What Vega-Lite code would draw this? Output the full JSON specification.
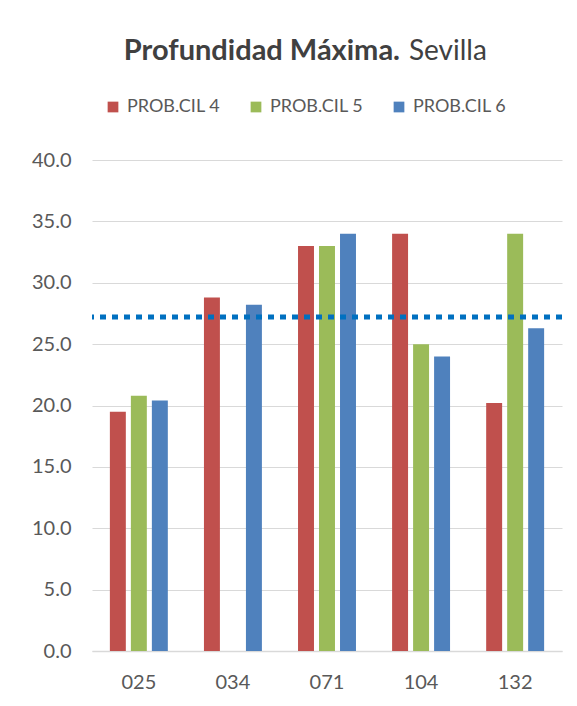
{
  "$schema": "https://vega.github.io/schema/vega-lite/v6.json",
  "autosize": "none",
  "width": 470,
  "height": 491,
  "padding": {"left": 92, "top": 160, "right": 15, "bottom": 55},
  "background": "white",
  "title": {
    "text": "Profundidad Máxima.",
    "subtitle": "Sevilla",
    "anchor": "middle",
    "frame": "group",
    "orient": "top",
    "offset": 32,
    "font": "Lato",
    "fontSize": 29,
    "fontWeight": "bold",
    "color": "#404040",
    "subtitleFont": "Lato",
    "subtitleFontSize": 28,
    "subtitleFontWeight": "normal",
    "subtitleColor": "#404040",
    "subtitlePadding": -28,
    "encode": {
      "title": {"update": {"align": {"value": "right"}, "dx": {"value": 73}}},
      "subtitle": {"update": {"align": {"value": "left"}, "dx": {"value": 82}}}
    }
  },
  "config": {
    "view": {"stroke": null},
    "axis": {
      "labelFont": "Lato",
      "labelFontSize": 20,
      "labelColor": "#595959",
      "ticks": false,
      "title": null,
      "gridColor": "#d9d9d9",
      "gridWidth": 1
    },
    "legend": {
      "labelFont": "Lato",
      "labelFontSize": 18,
      "labelColor": "#595959"
    }
  },
  "layer": [
    {
      "data": {
        "values": [
          {"pozo": "025", "serie": "PROB.CIL 4", "valor": 19.5},
          {"pozo": "025", "serie": "PROB.CIL 5", "valor": 20.8},
          {"pozo": "025", "serie": "PROB.CIL 6", "valor": 20.4},
          {"pozo": "034", "serie": "PROB.CIL 4", "valor": 28.8},
          {"pozo": "034", "serie": "PROB.CIL 6", "valor": 28.2},
          {"pozo": "071", "serie": "PROB.CIL 4", "valor": 33.0},
          {"pozo": "071", "serie": "PROB.CIL 5", "valor": 33.0},
          {"pozo": "071", "serie": "PROB.CIL 6", "valor": 34.0},
          {"pozo": "104", "serie": "PROB.CIL 4", "valor": 34.0},
          {"pozo": "104", "serie": "PROB.CIL 5", "valor": 25.0},
          {"pozo": "104", "serie": "PROB.CIL 6", "valor": 24.0},
          {"pozo": "132", "serie": "PROB.CIL 4", "valor": 20.2},
          {"pozo": "132", "serie": "PROB.CIL 5", "valor": 34.0},
          {"pozo": "132", "serie": "PROB.CIL 6", "valor": 26.3}
        ]
      },
      "mark": {"type": "bar"},
      "encoding": {
        "x": {
          "field": "pozo",
          "type": "nominal",
          "sort": ["025", "034", "071", "104", "132"],
          "scale": {"paddingInner": 0.384, "paddingOuter": 0.19},
          "axis": {"labelAngle": 0, "labelPadding": 21, "domain": true, "domainColor": "#d9d9d9", "domainWidth": 1.5, "grid": false}
        },
        "xOffset": {
          "field": "serie",
          "type": "nominal",
          "sort": ["PROB.CIL 4", "PROB.CIL 5", "PROB.CIL 6"],
          "scale": {"paddingInner": 0.24, "paddingOuter": 0}
        },
        "y": {
          "field": "valor",
          "type": "quantitative",
          "scale": {"domain": [0, 40], "nice": false},
          "axis": {"values": [0, 5, 10, 15, 20, 25, 30, 35, 40], "format": ".1f", "domain": false, "grid": true, "labelPadding": 21}
        },
        "color": {
          "field": "serie",
          "type": "nominal",
          "scale": {
            "domain": ["PROB.CIL 4", "PROB.CIL 5", "PROB.CIL 6"],
            "range": ["#C0504D", "#9BBB59", "#4F81BD"]
          },
          "legend": {
            "title": null,
            "orient": "none",
            "direction": "horizontal",
            "legendX": 12,
            "legendY": -62,
            "symbolType": "square",
            "symbolSize": 115,
            "symbolStrokeWidth": 0,
            "labelOffset": 5,
            "columnPadding": 26
          }
        }
      }
    },
    {
      "data": {"values": [{"umbral": 27.2}]},
      "mark": {"type": "rule", "color": "#0070C0", "strokeWidth": 5, "strokeDash": [6, 6]},
      "encoding": {
        "y": {"field": "umbral", "type": "quantitative"}
      }
    }
  ]
}
